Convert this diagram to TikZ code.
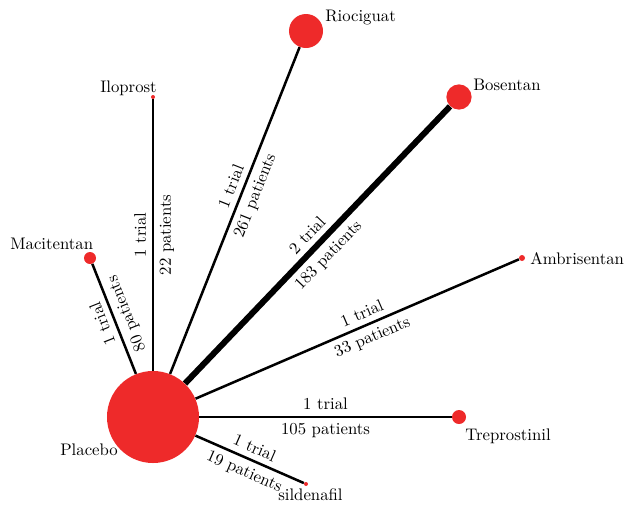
\documentclass[tikz,border=0pt]{standalone}
\usepackage{amsmath,amssymb}
\usepackage{xcolor}
\usepackage{tikz}
\usetikzlibrary{
	positioning,
	arrows.meta
}

\definecolor{nodered}{RGB}{238,42,42}

\begin{document}
\begin{tikzpicture}[
		x=0.021cm, y=-0.021cm,
		drug/.style={circle, fill=nodered, inner sep=0pt},
		drugname/.style={anchor=base west, inner sep=0pt},
		trial/.style={draw=black, line width=1.5pt},
		every edge/.append style={sloped, allow upside down}
	]
		\useasboundingbox (0,0) rectangle (627,506);

		\draw
			node[drug,minimum size=1.932cm] (pla) at (153,417) {}
			node[drug,minimum size=0.252cm]  (mac) at (90,258)  {}
			node[drug,minimum size=0.084cm]  (ilo) at (153,97)  {}
			node[drug,minimum size=0.714cm]  (rio) at (306,31)  {}
			node[drug,minimum size=0.53cm]   (bos) at (459,97)  {}
			node[drug,minimum size=0.126cm]  (amb) at (522,258) {}
			node[drug,minimum size=0.294cm]  (tre) at (459,417) {}
			node[drug,minimum size=0.084cm]  (sil) at (306,484) {}

			(pla) edge[trial]                 node[above]{1 trial} node[below]{80 patients}  (mac)
			(pla) edge[trial]                 node[above]{1 trial} node[below]{22 patients}  (ilo)
			(pla) edge[trial]                 node[above,pos=0.56]{1 trial} node[below,pos=0.56]{261 patients} (rio)
			(pla) edge[trial,line width=3.6pt] node[above]{2 trial} node[below]{183 patients} (bos)
			(pla) edge[trial]                 node[above,pos=0.53]{1 trial} node[below,pos=0.53]{33 patients} (amb)
			(pla) edge[trial]                 node[above]{1 trial} node[below]{105 patients} (tre)
			(pla) edge[trial]                 node[above]{1 trial} node[below]{19 patients}  (sil)
		;

		% drug names
		\node[drugname] (pla-name) at (60,455)  {Placebo};
		\node[drugname] (mac-name) at (10,249)  {Macitentan};
		\node[drugname] (ilo-name) at (100,92)  {Iloprost};
		\node[drugname] (rio-name) at (325,21)  {Riociguat};
		\node[drugname] (bos-name) at (473,90)  {Bosentan};
		\node[drugname] (amb-name) at (530,264) {Ambrisentan};
		\node[drugname] (tre-name) at (465,440) {Treprostinil};
		\node[drugname] (sil-name) at (278,500) {sildenafil};
	\end{tikzpicture}
\end{document}
